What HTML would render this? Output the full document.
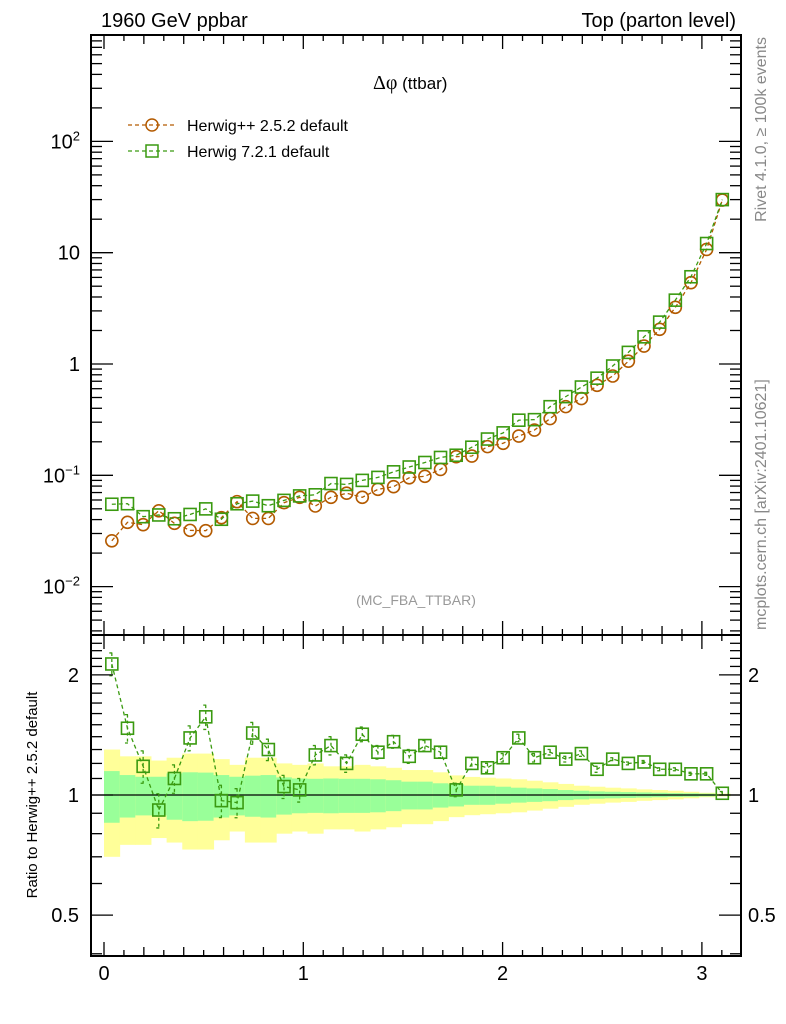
<!DOCTYPE html>
<html><head><meta charset="utf-8">
<style>
html,body{margin:0;padding:0;background:#fff;}
svg{display:block;font-family:"Liberation Sans",Arial,sans-serif;}
</style></head>
<body>
<svg id="chart" width="786" height="1024" viewBox="0 0 786 1024" xmlns="http://www.w3.org/2000/svg">
<g id="bands"></g>
<g id="marks"></g>
<g id="axes"></g>
<text x="101" y="27" font-size="20">1960 GeV ppbar</text>
<text x="736" y="27" font-size="20" text-anchor="end">Top (parton level)</text>
<text x="373" y="89" font-size="17"><tspan font-family="'Liberation Serif',serif" font-size="20">Δφ</tspan> (ttbar)</text>
<text x="416" y="605" font-size="14" fill="#999" text-anchor="middle">(MC_FBA_TTBAR)</text>
<text transform="translate(766,37) rotate(-90)" font-size="16" fill="#888" text-anchor="end">Rivet 4.1.0, ≥ 100k events</text>
<text transform="translate(766,630) rotate(-90)" font-size="16" fill="#888">mcplots.cern.ch [arXiv:2401.10621]</text>
<text transform="translate(37,795) rotate(-90)" font-size="15" text-anchor="middle">Ratio to Herwig++ 2.5.2 default</text>
<g>
  <g>
    <line x1="128" y1="125" x2="174" y2="125" stroke="#b35a00" stroke-width="1.3" stroke-dasharray="4,3"/>
    <circle cx="152" cy="125" r="6" fill="none" stroke="#b35a00" stroke-width="1.5"/>
    <text x="187" y="131" font-size="16">Herwig++ 2.5.2 default</text>
  </g>
  <g>
    <line x1="128" y1="151" x2="174" y2="151" stroke="#3a9a10" stroke-width="1.3" stroke-dasharray="4,3"/>
    <rect x="146" y="145" width="12" height="12" fill="none" stroke="#3a9a10" stroke-width="1.5"/>
    <text x="187" y="157" font-size="16">Herwig 7.2.1 default</text>
  </g>
</g>
</svg>
<script>
// ---- data ----
const h252 = [0.0258,0.0378,0.036,0.048,0.037,0.032,0.0318,0.0416,0.058,0.041,
0.041,0.0567,0.0634,0.053,0.0634,0.069,0.0634,0.0748,0.079,0.095,
0.098,0.113,0.147,0.149,0.181,0.194,0.225,0.255,0.323,0.414,
0.489,0.643,0.78,1.06,1.45,2.05,3.23,5.38,10.7,29.7];
const ratio721 = [2.13,1.47,1.18,0.917,1.10,1.39,1.57,0.968,0.957,1.43,
1.30,1.05,1.03,1.26,1.33,1.20,1.42,1.28,1.36,1.25,
1.33,1.28,1.03,1.20,1.17,1.24,1.39,1.24,1.28,1.23,
1.27,1.16,1.23,1.20,1.21,1.16,1.16,1.13,1.13,1.01];
const ratioErr = [0.14,0.12,0.11,0.09,0.09,0.10,0.11,0.09,0.08,0.09,
0.08,0.07,0.07,0.07,0.07,0.06,0.06,0.05,0.05,0.05,
0.04,0.04,0.04,0.04,0.03,0.03,0.03,0.03,0.02,0.02,
0.02,0.02,0.01,0.01,0.01,0.01,0.01,0.01,0.01,0.01];
const yellowDelta = [0.30,0.25,0.25,0.22,0.24,0.27,0.27,0.23,0.19,0.24,
0.24,0.20,0.19,0.20,0.18,0.18,0.19,0.18,0.17,0.155,
0.155,0.14,0.12,0.11,0.105,0.10,0.095,0.086,0.076,0.066,
0.055,0.049,0.043,0.039,0.033,0.029,0.025,0.019,0.013,0.008];
const greenDelta = [0.148,0.122,0.111,0.111,0.133,0.14,0.138,0.122,0.111,0.118,
0.122,0.107,0.10,0.098,0.10,0.098,0.098,0.095,0.089,0.08,
0.08,0.07,0.064,0.055,0.055,0.049,0.043,0.039,0.035,0.029,
0.025,0.021,0.019,0.017,0.015,0.013,0.011,0.01,0.008,0.004];
const xTickLabels = ["0","1","2","3"];
const mainTickLabels = [[-2,"10","−2"],[-1,"10","−1"],[0,"1",""],[1,"10",""],[2,"10","2"]];
const ratioTickLabels = [[2,"2"],[1,"1"],[0.5,"0.5"]];

// ---- axes functions ----
const NS="http://www.w3.org/2000/svg";
const L=91,R=741,T=35,MB=635,RB=956;
const NB=40, BW=Math.PI/NB;
const X=v=>104+199.3*v;
const Ym=v=>364-111.3*Math.log10(v);
const Yr=v=>795-399*Math.log10(v);
function mk(tag,attrs,parent){const e=document.createElementNS(NS,tag);for(const k in attrs)e.setAttribute(k,attrs[k]);parent.appendChild(e);return e;}
const bands=document.getElementById('bands'), marks=document.getElementById('marks'), axes=document.getElementById('axes');

for(let i=0;i<NB;i++){
  const x1=X(i*BW), x2=X((i+1)*BW);
  const y=mk('rect',{x:x1,y:Yr(1+yellowDelta[i]),width:x2-x1+0.5,height:Yr(1-yellowDelta[i])-Yr(1+yellowDelta[i]),fill:'#ffff99'},bands);
  
  
  const g=mk('rect',{x:x1,y:Yr(1+greenDelta[i]),width:x2-x1+0.5,height:Yr(1-greenDelta[i])-Yr(1+greenDelta[i]),fill:'#99ff99'},bands);
  
  
}
const one=mk('line',{x1:L,x2:R,y1:Yr(1),y2:Yr(1),stroke:'#000','stroke-width':1.3},bands);



const OR='#b35a00', GR='#3a9a10';
function series(vals,yf,color,shape,name,errs){
  const pts=vals.map((v,i)=>[X((i+0.5)*BW),yf(v)]);
  const pl=mk('polyline',{points:pts.map(p=>p.join(',')).join(' '),fill:'none',stroke:color,'stroke-width':1.3,'stroke-dasharray':'4,3'},marks);
  
  
  pts.forEach((p,i)=>{
    if(errs){
      const v=vals[i], up=yf(v+errs[i]), dn=yf(Math.max(v-errs[i],1e-6));
      const e=mk('path',{d:`M${p[0]},${up}V${dn}M${p[0]-2.5},${up}H${p[0]+2.5}M${p[0]-2.5},${dn}H${p[0]+2.5}`,stroke:color,'stroke-width':1.3,'stroke-dasharray':'3,3',fill:'none'},marks);
      
      
    }
    let m;
    if(shape==='c') m=mk('circle',{cx:p[0],cy:p[1],r:6,fill:'none',stroke:color,'stroke-width':1.6},marks);
    else m=mk('rect',{x:p[0]-6,y:p[1]-6,width:12,height:12,fill:'none',stroke:color,'stroke-width':1.6},marks);
    
    
  });
}
const h721=h252.map((v,i)=>v*ratio721[i]);
series(h252,Ym,OR,'c','herwigpp-main',null);
series(h721,Ym,GR,'s','herwig7-main',null);
series(ratio721,Yr,GR,'s','herwig7-ratio',ratioErr);

function line(x1,y1,x2,y2,w,name){const l=mk('line',{x1,y1,x2,y2,stroke:'#000','stroke-width':w},axes);return l;}
const f1=mk('rect',{x:L,y:T,width:R-L,height:MB-T,fill:'none',stroke:'#000','stroke-width':2},axes);


const f2=mk('rect',{x:L,y:MB,width:R-L,height:RB-MB,fill:'none',stroke:'#000','stroke-width':2},axes);



for(let k=0;k<=31;k++){
  const v=k/10, x=X(v); if(x>R)break;
  const len = k%10===0?14:(k%2===0?9:6);
  [T,MB].forEach(y0=>{line(x,y0,x,y0+len,1.3,'x-tick');});
  [MB,RB].forEach(y0=>{line(x,y0,x,y0-len,1.3,'x-tick');});
}
xTickLabels.forEach((s,i)=>{const t=mk('text',{x:X(i),y:980,'font-size':20,'text-anchor':'middle'},axes);t.textContent=s;

});

for(let d=-3;d<=2;d++){
  for(let m=1;m<=9;m++){
    const v=m*Math.pow(10,d), y=Ym(v); if(y<T||y>MB)continue;
    const len=m===1?22:11;
    line(L,y,L+len,y,1.3,'main-y-tick'); line(R,y,R-len,y,1.3,'main-y-tick');
  }
}
mainTickLabels.forEach(([e,s,sup])=>{
  const t=mk('text',{x:80,y:Ym(Math.pow(10,e))+7,'font-size':20,'text-anchor':'end'},axes);
  
  
  t.appendChild(document.createTextNode(s));
  if(sup){const sp=mk('tspan',{dy:-8,'font-size':13},t);sp.textContent=sup;}
});
for(let v=0.4;v<=2.5;v+=0.1){
  const vv=Math.round(v*10)/10, y=Yr(vv); if(y<MB||y>RB)continue;
  const len=(vv===1||vv===2||vv===0.5)?22:11;
  line(L,y,L+len,y,1.3,'ratio-y-tick'); line(R,y,R-len,y,1.3,'ratio-y-tick');
}
ratioTickLabels.forEach(([v,s])=>{
  const a=mk('text',{x:79,y:Yr(v)+7,'font-size':20,'text-anchor':'end'},axes);a.textContent=s;
  
  
  const b=mk('text',{x:748,y:Yr(v)+7,'font-size':20},axes);b.textContent=s;
  
  
});
</script>
</body></html>
